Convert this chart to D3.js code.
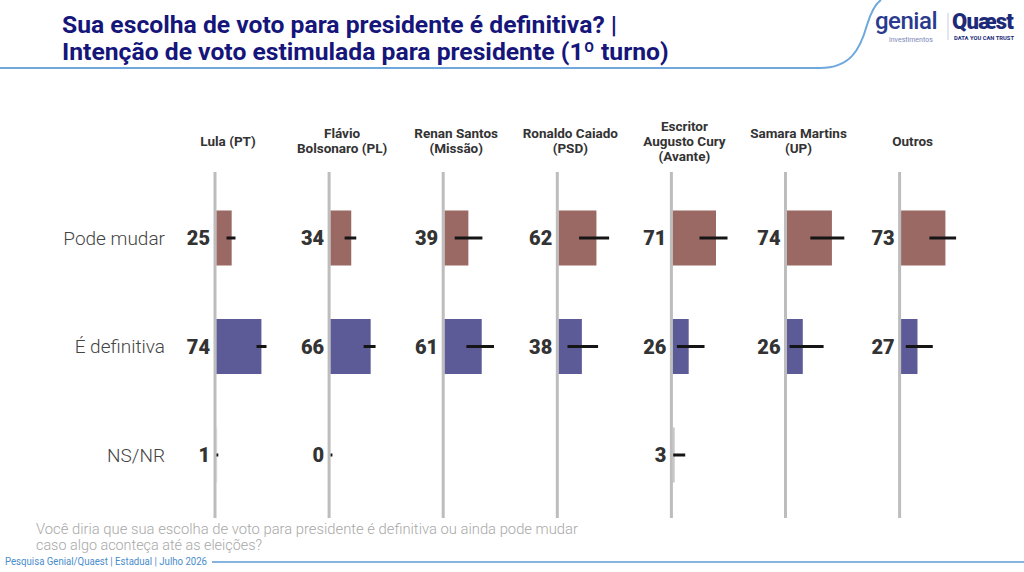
<!DOCTYPE html>
<html><head><meta charset="utf-8">
<script src="https://cdn.jsdelivr.net/npm/d3@7/dist/d3.min.js"></script>
<style>
html,body{margin:0;padding:0;background:#fff;}
svg{display:block;}
</style></head>
<body><svg id="c" width="1024" height="572"></svg>
<script>
const headerLines = [["Lula (PT)"],["Flávio","Bolsonaro (PL)"],["Renan Santos","(Missão)"],["Ronaldo Caiado","(PSD)"],["Escritor","Augusto Cury","(Avante)"],["Samara Martins","(UP)"],["Outros"]];
const candidates = ["Lula (PT)","Flávio Bolsonaro (PL)","Renan Santos (Missão)","Ronaldo Caiado (PSD)","Escritor Augusto Cury (Avante)","Samara Martins (UP)","Outros"];
const responses = ["Pode mudar","É definitiva","NS/NR"];
const podeMudar = [25,34,39,62,71,74,73];
const definitiva = [74,66,61,38,26,26,27];
const nsnr = [1,0,null,null,3,null,null];
const podeLo = [16.5,23.1,16.5,33.4,43.8,38.4,46.6];
const podeHi = [31.3,42.3,62.1,82.9,90.0,94.4,90.6];
const defLo = [65.9,54.4,35.7,14.3,6.6,4.3,7.7];
const defHi = [82.4,74.1,81.2,64.7,52.1,60.3,52.2];
const nsLo = [0,0,null,null,0.5,null,null];
const nsHi = [3,3,null,null,20.3,null,null];
const titleLines = ["Sua escolha de voto para presidente é definitiva? |","Intenção de voto estimulada para presidente (1º turno)"];
const questionLines = ["Você diria que sua escolha de voto para presidente é definitiva ou ainda pode mudar","caso algo aconteça até as eleições?"];
const footerText = "Pesquisa Genial/Quaest | Estadual | Julho 2026";

const colors = {"Pode mudar":"#9b6964","É definitiva":"#5d5a98","NS/NR":"#8a8a8a"};
const series = {
  "Pode mudar": {v: podeMudar, lo: podeLo, hi: podeHi},
  "É definitiva": {v: definitiva, lo: defLo, hi: defHi},
  "NS/NR": {v: nsnr, lo: nsLo, hi: nsHi}
};

const svg = d3.select("#c");
const font = "Roboto, 'Noto Sans', sans-serif";

// header swoosh line
svg.append("path")
  .attr("d","M0,68 L820,68 C850,68 860,50 867,25 C871,12 875,4 881,0")
  .attr("fill","none").attr("stroke","#6fa8dc").attr("stroke-width",2);

// title
svg.append("g").selectAll("text").data(titleLines).join("text")
  .attr("x",62).attr("y",(d,i)=>33+i*27)
  .attr("font-family",font).attr("font-weight",700).attr("font-size",24.7)
  .attr("fill","#16167a").text(d=>d);

// logo
const lg = svg.append("g");
lg.append("text").attr("x",875).attr("y",29).attr("font-family",font).attr("font-size",24).attr("font-weight",500).attr("fill","#2a3b8f").attr("letter-spacing",-0.5).text("genial");
lg.append("text").attr("x",889).attr("y",42).attr("font-family",font).attr("font-size",7).attr("fill","#7a86b8").text("investimentos");
lg.append("line").attr("x1",948).attr("x2",948).attr("y1",13).attr("y2",40).attr("stroke","#c9cde0").attr("stroke-width",1);
lg.append("text").attr("x",952).attr("y",29).attr("font-family",font).attr("font-size",22).attr("font-weight",900).attr("fill","#1d2a78").attr("letter-spacing",-0.8).text("Quæst");
lg.append("text").attr("x",954).attr("y",40).attr("font-family",font).attr("font-size",5.8).attr("font-weight",700).attr("fill","#1d2a78").text("DATA YOU CAN TRUST");

// scales
const colX = d3.scaleBand().domain(candidates).range([215, 215+7*114.1]).paddingInner(0);
const rowY = d3.scaleBand().domain(responses).range([183.75, 509.25]).paddingInner(0.493).paddingOuter(0.2465);
const valX = d3.scaleLinear().domain([0,100]).range([0,60.7]);

// row labels
svg.append("g").selectAll("text").data(responses).join("text")
  .attr("x",165).attr("y",d=>rowY(d)+rowY.bandwidth()/2)
  .attr("dy","0.35em").attr("text-anchor","end")
  .attr("font-family",font).attr("font-size",19).attr("font-weight",300)
  .attr("fill","#444").text(d=>d);

candidates.forEach((c,ci)=>{
  const ax = colX(c);
  const g = svg.append("g");
  const lines = headerLines[ci];
  const hc = 141 - (lines.length-1)*15/2;
  g.selectAll("text.h").data(lines).join("text").attr("class","h")
    .attr("x",ax+13).attr("y",(d,i)=>hc+i*15).attr("dy","0.35em")
    .attr("text-anchor","middle").attr("font-family",font).attr("font-weight",700)
    .attr("font-size",13.5).attr("fill","#333").text(d=>d);
  g.append("line").attr("x1",ax).attr("x2",ax).attr("y1",172).attr("y2",518)
    .attr("stroke","#bdbdbd").attr("stroke-width",3);
  const x0 = ax+1.5;
  responses.forEach(r=>{
    const s = series[r];
    const v = s.v[ci];
    if (v === null) return;
    const y = rowY(r), h = rowY.bandwidth(), cy = y+h/2;
    g.append("rect").attr("x",x0).attr("y",y).attr("width",valX(v)).attr("height",h)
      .attr("fill", r==="NS/NR" ? "#c8c8c8" : colors[r]);
    g.append("line").attr("x1",x0+valX(s.lo[ci])).attr("x2",x0+valX(s.hi[ci]))
      .attr("y1",cy).attr("y2",cy).attr("stroke","#151515").attr("stroke-width",3);
    g.append("text").attr("x",ax-5).attr("y",cy).attr("dy","0.36em")
      .attr("text-anchor","end").attr("font-family",font).attr("font-weight",900)
      .attr("font-size",20).attr("fill","#333").text(v);
  });
});

// question
const qWidths = [542, 226];
svg.append("g").selectAll("text").data(questionLines).join("text")
  .attr("x",36).attr("y",(d,i)=>534+i*15.5)
  .attr("font-family",font).attr("font-size",14).attr("font-weight",300)
  .attr("textLength",(d,i)=>qWidths[i]).attr("lengthAdjust","spacingAndGlyphs")
  .attr("fill","#a8a8a8").text(d=>d);

// footer
svg.append("text").attr("x",5).attr("y",565).attr("font-family",font).attr("font-size",11)
  .attr("textLength",202).attr("lengthAdjust","spacingAndGlyphs")
  .attr("fill","#4a8ccc").text(footerText);
svg.append("line").attr("x1",212).attr("x2",1024).attr("y1",562).attr("y2",562)
  .attr("stroke","#5e9bd3").attr("stroke-width",1.5);
</script></body></html>
